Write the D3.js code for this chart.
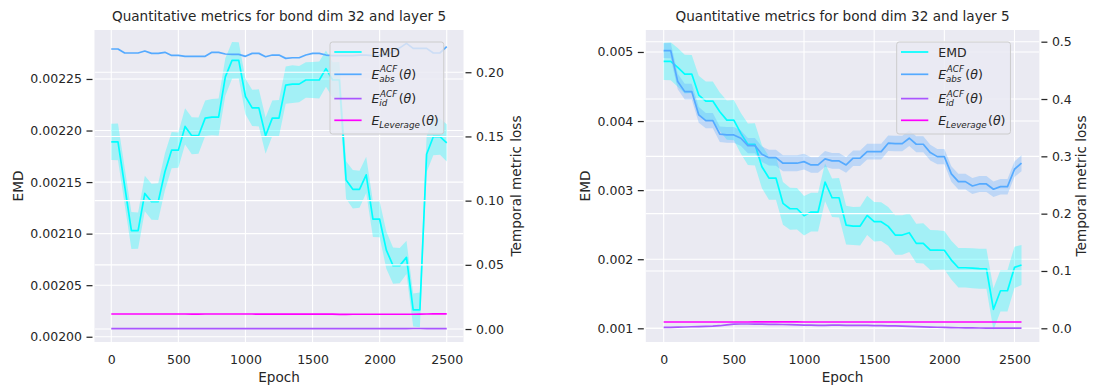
<!DOCTYPE html>
<html>
<head>
<meta charset="utf-8">
<script src="https://cdn.jsdelivr.net/npm/d3@7"></script>
<style>
  body { margin: 0; background: #ffffff; }
  svg { display: block; }
  text { font-family: "DejaVu Sans", sans-serif; fill: #262626; }
</style>
</head>
<body>
<svg id="fig" width="1097" height="389"></svg>
<script>
// ---------------- data ----------------
const epochsLeft = [0, 50, 100, 150, 200, 250, 300, 350, 400, 450, 500, 550, 600, 650, 700, 750, 800, 850, 900, 950,
  1000, 1050, 1100, 1150, 1200, 1250, 1300, 1350, 1400, 1450, 1500, 1550, 1600, 1650, 1700, 1750, 1800, 1850, 1900, 1950,
  2000, 2050, 2100, 2150, 2200, 2250, 2300, 2350, 2400, 2450, 2500];
const epochsRight = [0, 50, 100, 150, 200, 250, 300, 350, 400, 450, 500, 550, 600, 650, 700, 750, 800, 850, 900, 950,
  1000, 1050, 1100, 1150, 1200, 1250, 1300, 1350, 1400, 1450, 1500, 1550, 1600, 1650, 1700, 1750, 1800, 1850, 1900, 1950,
  2000, 2050, 2100, 2150, 2200, 2250, 2300, 2350, 2400, 2450, 2500, 2550];

// left panel
const emdLeft = [0.002189, 0.002189, 0.002146, 0.002103, 0.002103, 0.002139, 0.002131, 0.002131, 0.002160, 0.002181,
  0.002181, 0.002204, 0.002195, 0.002195, 0.002212, 0.002213, 0.002213, 0.002252, 0.002268, 0.002268,
  0.002233, 0.002222, 0.002222, 0.002195, 0.002212, 0.002212, 0.002244, 0.002245, 0.002245, 0.002249,
  0.002249, 0.002249, 0.002260, 0.002249, 0.002249, 0.002152, 0.002143, 0.002143, 0.002157, 0.002114,
  0.002114, 0.002084, 0.002069, 0.002069, 0.002077, 0.002026, 0.002026, 0.002177, 0.002194, 0.002194,
  0.002188];
const emdStdLeft = [0.0000175, 0.0000178, 0.0000180, 0.0000180, 0.0000176, 0.0000172, 0.0000175, 0.0000178, 0.0000180, 0.0000176,
  0.0000172, 0.0000175, 0.0000180, 0.0000176, 0.0000172, 0.0000175, 0.0000180, 0.0000182, 0.0000178, 0.0000176,
  0.0000172, 0.0000175, 0.0000180, 0.0000176, 0.0000172, 0.0000175, 0.0000180, 0.0000182, 0.0000176, 0.0000172,
  0.0000175, 0.0000180, 0.0000176, 0.0000172, 0.0000175, 0.0000182, 0.0000186, 0.0000180, 0.0000176, 0.0000172,
  0.0000175, 0.0000180, 0.0000176, 0.0000170, 0.0000162, 0.0000160, 0.0000168, 0.0000175, 0.0000180, 0.0000176,
  0.0000180];
const absLeft = [0.2181, 0.2181, 0.2150, 0.2150, 0.2150, 0.2165, 0.2147, 0.2147, 0.2155, 0.2131,
  0.2131, 0.2124, 0.2124, 0.2124, 0.2124, 0.2155, 0.2155, 0.2142, 0.2139, 0.2139,
  0.2124, 0.2147, 0.2147, 0.2121, 0.2134, 0.2134, 0.2108, 0.2113, 0.2113, 0.2134,
  0.2147, 0.2147, 0.2134, 0.2129, 0.2129, 0.2129, 0.2129, 0.2134, 0.2134, 0.2129,
  0.2134, 0.2134, 0.2160, 0.2190, 0.2225, 0.2186, 0.2186, 0.2186, 0.2150, 0.2150,
  0.2200];
const idLeft = [0.0003, 0.0003, 0.0003, 0.0003, 0.0003, 0.0003, 0.0003, 0.0003, 0.0003, 0.0003,
  0.0003, 0.0003, 0.0003, 0.0003, 0.0003, 0.0003, 0.0003, 0.0003, 0.0003, 0.0003,
  0.0003, 0.0003, 0.0003, 0.0003, 0.0003, 0.0003, 0.0003, 0.0003, 0.0003, 0.0003,
  0.0003, 0.0003, 0.0003, 0.0003, 0.0003, 0.0003, 0.0003, 0.0003, 0.0003, 0.0003,
  0.0003, 0.0003, 0.0003, 0.0003, 0.0003, 0.0004, 0.0004, 0.0003, 0.0003, 0.0003,
  0.0003];
const levLeft = [0.0117, 0.0117, 0.0117, 0.0117, 0.0117, 0.0117, 0.0117, 0.0117, 0.0117, 0.0117,
  0.0117, 0.0117, 0.0116, 0.0116, 0.0117, 0.0117, 0.0117, 0.0117, 0.0117, 0.0117,
  0.0117, 0.0117, 0.0116, 0.0116, 0.0116, 0.0116, 0.0116, 0.0116, 0.0116, 0.0116,
  0.0116, 0.0116, 0.0116, 0.0116, 0.0114, 0.0114, 0.0115, 0.0115, 0.0115, 0.0115,
  0.0115, 0.0115, 0.0115, 0.0115, 0.0115, 0.0115, 0.0116, 0.0117, 0.0118, 0.0118,
  0.0118];

// right panel
const emdRight = [0.004864, 0.004864, 0.004777, 0.004680, 0.004680, 0.004376, 0.004289, 0.004289, 0.004135, 0.004014,
  0.004014, 0.003822, 0.003663, 0.003663, 0.003339, 0.003175, 0.003175, 0.002809, 0.002731, 0.002731,
  0.002630, 0.002683, 0.002683, 0.003115, 0.002890, 0.002890, 0.002495, 0.002480, 0.002480, 0.002635,
  0.002543, 0.002543, 0.002476, 0.002350, 0.002350, 0.002384, 0.002230, 0.002230, 0.002133, 0.002133,
  0.002130, 0.001988, 0.001877, 0.001877, 0.001870, 0.001863, 0.001862, 0.001275, 0.001544, 0.001544,
  0.001882, 0.001916];
const emdStdRight = [0.000270, 0.000275, 0.000280, 0.000280, 0.000275, 0.000280, 0.000285, 0.000285, 0.000280, 0.000285,
  0.000290, 0.000295, 0.000300, 0.000305, 0.000310, 0.000315, 0.000315, 0.000310, 0.000305, 0.000300,
  0.000285, 0.000280, 0.000280, 0.000275, 0.000280, 0.000285, 0.000280, 0.000275, 0.000280, 0.000285,
  0.000285, 0.000280, 0.000280, 0.000285, 0.000285, 0.000280, 0.000285, 0.000290, 0.000290, 0.000285,
  0.000280, 0.000280, 0.000285, 0.000285, 0.000290, 0.000290, 0.000290, 0.000300, 0.000300, 0.000300,
  0.000300, 0.000290];
const absRight = [0.4845, 0.4845, 0.4304, 0.4129, 0.4129, 0.3723, 0.3623, 0.3623, 0.3386, 0.3374,
  0.3374, 0.3316, 0.3187, 0.3187, 0.3037, 0.2977, 0.2977, 0.2880, 0.2880, 0.2880,
  0.2908, 0.2850, 0.2850, 0.2955, 0.2920, 0.2920, 0.2850, 0.2967, 0.2967, 0.3082,
  0.3082, 0.3082, 0.3229, 0.3222, 0.3222, 0.3316, 0.3211, 0.3211, 0.3065, 0.2995,
  0.2995, 0.2693, 0.2559, 0.2559, 0.2483, 0.2518, 0.2518, 0.2426, 0.2471, 0.2471,
  0.2775, 0.2880];
const absStdRight = [0.0130, 0.0132, 0.0135, 0.0138, 0.0138, 0.0136, 0.0135, 0.0135, 0.0136, 0.0138,
  0.0138, 0.0136, 0.0135, 0.0135, 0.0136, 0.0138, 0.0140, 0.0140, 0.0140, 0.0138,
  0.0136, 0.0135, 0.0135, 0.0136, 0.0138, 0.0138, 0.0136, 0.0135, 0.0135, 0.0136,
  0.0138, 0.0138, 0.0136, 0.0135, 0.0135, 0.0136, 0.0138, 0.0138, 0.0136, 0.0135,
  0.0135, 0.0136, 0.0138, 0.0138, 0.0140, 0.0140, 0.0138, 0.0136, 0.0135, 0.0135,
  0.0136, 0.0138];
const idRight = [0.0017, 0.0017, 0.0020, 0.0023, 0.0027, 0.0030, 0.0033, 0.0037, 0.0045, 0.0060,
  0.0072, 0.0075, 0.0075, 0.0074, 0.0072, 0.0070, 0.0068, 0.0066, 0.0064, 0.0060,
  0.0056, 0.0054, 0.0052, 0.0052, 0.0054, 0.0054, 0.0052, 0.0052, 0.0050, 0.0050,
  0.0048, 0.0046, 0.0044, 0.0042, 0.0038, 0.0034, 0.0030, 0.0026, 0.0022, 0.0018,
  0.0015, 0.0012, 0.0010, 0.0008, 0.0006, 0.0005, 0.0004, 0.0003, 0.0003, 0.0002,
  0.0002, 0.0002];
const levRight = [0.0110, 0.0110, 0.0110, 0.0110, 0.0110, 0.0110, 0.0110, 0.0110, 0.0110, 0.0110,
  0.0110, 0.0110, 0.0110, 0.0111, 0.0111, 0.0111, 0.0111, 0.0111, 0.0111, 0.0111,
  0.0110, 0.0110, 0.0110, 0.0110, 0.0110, 0.0110, 0.0110, 0.0110, 0.0110, 0.0110,
  0.0110, 0.0110, 0.0110, 0.0110, 0.0110, 0.0110, 0.0110, 0.0110, 0.0110, 0.0110,
  0.0110, 0.0110, 0.0110, 0.0110, 0.0110, 0.0110, 0.0110, 0.0110, 0.0110, 0.0110,
  0.0110, 0.0110];

// tick values
const epochTicks = [0, 500, 1000, 1500, 2000, 2500];
const emdTicksLeft = [0.00200, 0.00205, 0.00210, 0.00215, 0.00220, 0.00225];
const lossTicksLeft = [0.00, 0.05, 0.10, 0.15, 0.20];
const emdTicksRight = [0.001, 0.002, 0.003, 0.004, 0.005];
const lossTicksRight = [0.0, 0.1, 0.2, 0.3, 0.4, 0.5];

const titleText = "Quantitative metrics for bond dim 32 and layer 5";

// ---------------- styling ----------------
const COLORS = { emd: "#00ffff", abs: "#55aaff", id: "#aa55ff", lev: "#ff00ff" };
const AX_BG = "#eaeaf2";
const TICK_FS = 12.5, LABEL_FS = 13.6, LEG_FS = 12.5;

const svg = d3.select("#fig");

function drawPanel(p) {
  const { box } = p;
  const g = svg.append("g");
  const x = d3.scaleLinear().domain(p.xDomain).range([box.left, box.right]);
  const yL = d3.scaleLinear().domain(p.yLeftDomain).range([box.bottom, box.top]);
  const yR = d3.scaleLinear().domain(p.yRightDomain).range([box.bottom, box.top]);

  const clipId = "clip-" + p.id;
  svg.append("clipPath").attr("id", clipId).append("rect")
    .attr("x", box.left).attr("y", box.top)
    .attr("width", box.right - box.left).attr("height", box.bottom - box.top);

  // axes background
  g.append("rect").attr("x", box.left).attr("y", box.top)
    .attr("width", box.right - box.left).attr("height", box.bottom - box.top)
    .attr("fill", AX_BG);

  const plot = g.append("g").attr("clip-path", `url(#${clipId})`);

  // primary grid (x + left y)
  const grid1 = plot.append("g").attr("stroke", "#ffffff").attr("stroke-width", 1.1);
  grid1.selectAll("line.gx").data(p.xTicks).join("line")
    .attr("x1", d => x(d)).attr("x2", d => x(d))
    .attr("y1", box.top).attr("y2", box.bottom);
  grid1.selectAll("line.gy").data(p.yLeftTicks).join("line")
    .attr("x1", box.left).attr("x2", box.right)
    .attr("y1", d => yL(d)).attr("y2", d => yL(d));

  // EMD mean and spread
  const rowsEmd = p.epochs.map((e, i) => ({ e, m: p.emd[i], s: p.emdStd[i] }));
  plot.append("path").datum(rowsEmd)
    .attr("fill", COLORS.emd).attr("fill-opacity", 0.3)
    .attr("d", d3.area().x(d => x(d.e)).y0(d => yL(d.m - d.s)).y1(d => yL(d.m + d.s)));
  plot.append("path").datum(rowsEmd)
    .attr("fill", "none").attr("stroke", COLORS.emd).attr("stroke-width", 1.7)
    .attr("stroke-linejoin", "round")
    .attr("d", d3.line().x(d => x(d.e)).y(d => yL(d.m)));

  // twin-axis grid (right y) sits above the EMD layer
  const grid2 = plot.append("g").attr("stroke", "#ffffff").attr("stroke-width", 1.1);
  grid2.selectAll("line").data(p.yRightTicks).join("line")
    .attr("x1", box.left).attr("x2", box.right)
    .attr("y1", d => yR(d)).attr("y2", d => yR(d));

  // temporal metrics on the right axis
  if (p.absStd) {
    const rowsAbs = p.epochs.map((e, i) => ({ e, m: p.abs[i], s: p.absStd[i] }));
    plot.append("path").datum(rowsAbs)
      .attr("fill", COLORS.abs).attr("fill-opacity", 0.3)
      .attr("d", d3.area().x(d => x(d.e)).y0(d => yR(d.m - d.s)).y1(d => yR(d.m + d.s)));
  }
  [["abs", p.abs], ["id", p.id_], ["lev", p.lev]].forEach(([k, vals]) => {
    plot.append("path").datum(p.epochs.map((e, i) => [e, vals[i]]))
      .attr("fill", "none").attr("stroke", COLORS[k]).attr("stroke-width", 1.7)
      .attr("stroke-linejoin", "round")
      .attr("d", d3.line().x(d => x(d[0])).y(d => yR(d[1])));
  });

  // axes
  const styleAxis = sel => {
    sel.select(".domain").remove();
    sel.selectAll("text").attr("font-size", TICK_FS).attr("font-family", "DejaVu Sans").attr("fill", "#262626");
    sel.selectAll(".tick line").attr("stroke", "#262626").attr("stroke-width", 1.25);
  };
  g.append("g").attr("transform", `translate(0,${box.bottom})`)
    .call(d3.axisBottom(x).tickValues(p.xTicks).tickSize(0).tickPadding(13).tickFormat(d3.format("d")))
    .call(styleAxis);
  g.append("g").attr("transform", `translate(${box.left - 2},0)`)
    .call(d3.axisLeft(yL).tickValues(p.yLeftTicks).tickSize(6).tickPadding(4.5).tickFormat(d3.format(p.yLeftFmt)))
    .call(styleAxis);
  g.append("g").attr("transform", `translate(${box.right + 2},0)`)
    .call(d3.axisRight(yR).tickValues(p.yRightTicks).tickSize(6).tickPadding(4.5).tickFormat(d3.format(p.yRightFmt)))
    .call(styleAxis);

  // title and axis labels
  const cx = (box.left + box.right) / 2, cy = (box.top + box.bottom) / 2;
  g.append("text").attr("x", cx).attr("y", 21).attr("text-anchor", "middle")
    .attr("font-size", LABEL_FS).text(titleText);
  g.append("text").attr("x", cx).attr("y", 382).attr("text-anchor", "middle")
    .attr("font-size", LABEL_FS).text("Epoch");
  g.append("text").attr("transform", `translate(${p.leftLabelX},${cy}) rotate(-90)`)
    .attr("text-anchor", "middle").attr("font-size", LABEL_FS).text("EMD");
  g.append("text").attr("transform", `translate(${p.rightLabelX},${cy}) rotate(-90)`)
    .attr("text-anchor", "middle").attr("font-size", LABEL_FS).text("Temporal metric loss");

  drawLegend(g, p.legend);
}

// legend entry with math-style label: E with optional sub/superscript and (θ)
function mathLabel(g, x, y, sub, sup) {
  const e = g.append("text").attr("x", x).attr("y", y).attr("font-size", LEG_FS)
    .style("font-style", "italic").text("E");
  let cx = x + e.node().getComputedTextLength();
  let w = 0;
  if (sup) {
    const t = g.append("text").attr("x", cx + 0.6).attr("y", y - 6.3).attr("font-size", LEG_FS * 0.7)
      .style("font-style", "italic").text(sup);
    w = Math.max(w, t.node().getComputedTextLength() + 0.6);
  }
  if (sub) {
    const t = g.append("text").attr("x", cx - 0.3).attr("y", y + 3.4).attr("font-size", LEG_FS * 0.7)
      .style("font-style", "italic").text(sub);
    w = Math.max(w, t.node().getComputedTextLength() - 0.3);
  }
  cx += w + 1.4;
  const t = g.append("text").attr("x", cx).attr("y", y).attr("font-size", LEG_FS);
  t.append("tspan").text("(");
  t.append("tspan").style("font-style", "italic").text("θ");
  t.append("tspan").text(")");
  return cx + t.node().getComputedTextLength() - x;
}

function drawLegend(g, L) {
  const lg = g.append("g");
  const frame = lg.append("rect").attr("x", L.x).attr("y", L.y).attr("height", L.h)
    .attr("rx", 2.5).attr("fill", AX_BG).attr("fill-opacity", 0.8)
    .attr("stroke", "#cccccc").attr("stroke-width", 1);
  const rowsY = [L.y + 10, L.y + 32.3, L.y + 56.6, L.y + 78.3];
  const keys = ["emd", "abs", "id", "lev"];
  keys.forEach((k, i) => {
    lg.append("line").attr("x1", L.x + 4.3).attr("x2", L.x + 31.6)
      .attr("y1", rowsY[i]).attr("y2", rowsY[i])
      .attr("stroke", COLORS[k]).attr("stroke-width", 1.7);
  });
  const tx = L.x + 41.6;
  let maxW = 0;
  const t0 = lg.append("text").attr("x", tx).attr("y", rowsY[0] + 4.5).attr("font-size", LEG_FS).text("EMD");
  maxW = Math.max(maxW, t0.node().getComputedTextLength());
  maxW = Math.max(maxW, mathLabel(lg, tx, rowsY[1] + 4.3, "abs", "ACF"));
  maxW = Math.max(maxW, mathLabel(lg, tx, rowsY[2] + 4.3, "id", "ACF"));
  maxW = Math.max(maxW, mathLabel(lg, tx, rowsY[3] + 4.3, "Leverage", null));
  frame.attr("width", tx - L.x + maxW + 5);
}

drawPanel({
  id: "left",
  box: { left: 94.5, right: 463.5, top: 30, bottom: 342 },
  xDomain: [-125, 2625],
  yLeftDomain: [0.0019949, 0.0022975],
  yRightDomain: [-0.0101, 0.2329],
  epochs: epochsLeft, emd: emdLeft, emdStd: emdStdLeft,
  abs: absLeft, absStd: null, id_: idLeft, lev: levLeft,
  xTicks: epochTicks, yLeftTicks: emdTicksLeft, yRightTicks: lossTicksLeft,
  yLeftFmt: ".5f", yRightFmt: ".2f",
  leftLabelX: 22.6, rightLabelX: 520.5,
  legend: { x: 330, y: 42, h: 92 }
});

drawPanel({
  id: "right",
  box: { left: 645.8, right: 1039.4, top: 30, bottom: 342 },
  xDomain: [-127.5, 2677.5],
  yLeftDomain: [0.000802, 0.005318],
  yRightDomain: [-0.0239, 0.5204],
  epochs: epochsRight, emd: emdRight, emdStd: emdStdRight,
  abs: absRight, absStd: absStdRight, id_: idRight, lev: levRight,
  xTicks: epochTicks, yLeftTicks: emdTicksRight, yRightTicks: lossTicksRight,
  yLeftFmt: ".3f", yRightFmt: ".1f",
  leftLabelX: 589.5, rightLabelX: 1085.5,
  legend: { x: 896.7, y: 42, h: 92 }
});
</script>
</body>
</html>
